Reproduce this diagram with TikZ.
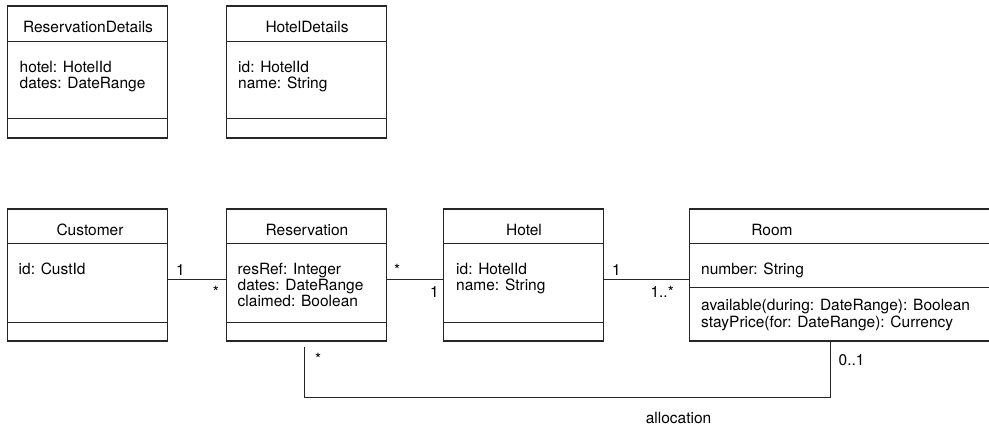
\documentclass[tikz,border=0pt]{standalone}
\usepackage{fontspec}
\setmainfont{TeX Gyre Heros}
\usepackage{tikz}
\usetikzlibrary{positioning, calc}
\tikzset{
	classnode/.style={
			shape=rectangle,
			draw=black!85,
			line width=1.1pt,
			minimum width=160pt,
			minimum height=132pt,
			inner sep=0pt
		},
	umltext/.style={
			font=\fontsize{15.5}{16}\selectfont,
			inner sep=0pt,
			align=left
		},
	multtext/.style={
			umltext,
			anchor=base
		},
	divider/.style={
			draw=black!85,
			line width=1.1pt
		}
}

\begin{document}
\begin{tikzpicture}[x=1pt, y=-1pt]
\useasboundingbox (0,0) rectangle (989,425);

				% top row
				\node[classnode] (resdet)   at (87.5,72)  {};
				\node[classnode] (hoteldet) at (306.5,72) {};

				% bottom row
				\node[classnode] (cust)  at (87.5,275)  {};
				\node[classnode] (resv)  at (306.5,275) {};
				\node[classnode] (hotel) at (523.5,275) {};
				\node[classnode, minimum width=320pt] (room) at (849.5,275) {};

				\draw[divider] (resdet.west |- 0,41.5) -- (resdet.east |- 0,41.5);
				\draw[divider] (resdet.west |- 0,118.5) -- (resdet.east |- 0,118.5);
				\draw[divider] (hoteldet.west |- 0,41.5) -- (hoteldet.east |- 0,41.5);
				\draw[divider] (hoteldet.west |- 0,118.5) -- (hoteldet.east |- 0,118.5);

				\draw[divider] (cust.west |- 0,243.5) -- (cust.east |- 0,243.5);
				\draw[divider] (cust.west |- 0,322.5) -- (cust.east |- 0,322.5);
				\draw[divider] (resv.west |- 0,243.5) -- (resv.east |- 0,243.5);
				\draw[divider] (resv.west |- 0,322.5) -- (resv.east |- 0,322.5);
				\draw[divider] (hotel.west |- 0,243.5) -- (hotel.east |- 0,243.5);
				\draw[divider] (hotel.west |- 0,322.5) -- (hotel.east |- 0,322.5);
				\draw[divider] (room.west |- 0,243.5) -- (room.east |- 0,243.5);
				\draw[divider] (room.west |- 0,287.5) -- (room.east |- 0,287.5);

				% class names
				\node[umltext, anchor=base] (resdetname)   at (88,33)   {ReservationDetails};
				\node[umltext, anchor=base] (hoteldetname) at (307,33)  {HotelDetails};
				\node[umltext, anchor=base] (custname)     at (90,236)  {Customer};
				\node[umltext, anchor=base] (resvname)     at (307,236) {Reservation};
				\node[umltext, anchor=base] (hotelname)    at (524,236) {Hotel};
				\node[umltext, anchor=base] (roomname)     at (772,236) {Room};

				% attributes and operations (base = last line)
				\node[umltext, anchor=base west] (resdetattr)   at (19.5,88.5) {hotel: HotelId\\dates: DateRange};
				\node[umltext, anchor=base west] (hoteldetattr) at (238,88.5)  {id: HotelId\\name: String};
				\node[umltext, anchor=base west] (custattr)     at (18.5,274)  {id: CustId};
				\node[umltext, anchor=base west] (resvattr)     at (237.5,306) {resRef: Integer\\dates: DateRange\\claimed: Boolean};
				\node[umltext, anchor=base west] (hotelattr)    at (456,290)   {id: HotelId\\name: String};
				\node[umltext, anchor=base west] (roomattr)     at (701,274)   {number: String};
				\node[umltext, anchor=base west, font=\fontsize{15.5}{17.5}\selectfont] (roomops) at (701,327.5) {available(during: DateRange): Boolean\\stayPrice(for: DateRange): Currency};

				% associations
				\draw[divider] (cust.east |- 0,279.5) -- (resv.west |- 0,279.5);
				\draw[divider] (resv.east |- 0,279.5) -- (hotel.west |- 0,279.5);
				\draw[divider] (hotel.east |- 0,279.5) -- (room.west |- 0,279.5);
				\draw[divider] ([shift={(-2,5)}]resv.south) -- ++(0,50.5) -| (room.south -| 830.5,0);

				% multiplicities
				\node[multtext, anchor=base west] (m1) at (176,275)   {1};
				\node[multtext, anchor=base east] (m2) at (219,298)   {*};
				\node[multtext, anchor=base west] (m3) at (394,275)   {*};
				\node[multtext, anchor=base east] (m4) at (439,298)   {1};
				\node[multtext, anchor=base west] (m5) at (612,275)   {1};
				\node[multtext, anchor=base east] (m6) at (674,298)   {1..*};
				\node[multtext, anchor=base west] (m7) at (315,364)   {*};
				\node[multtext, anchor=base west] (m8) at (838.5,365) {0..1};
				\node[multtext] (allocname) at (678.5,423) {allocation};

\end{tikzpicture}
\end{document}
